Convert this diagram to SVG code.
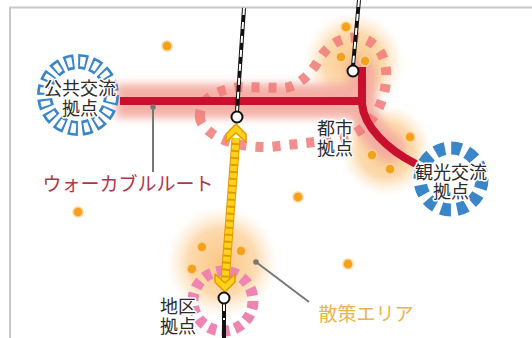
<svg xmlns="http://www.w3.org/2000/svg" width="532" height="338" viewBox="0 0 532 338">
<defs>
  <radialGradient id="og">
    <stop offset="0" stop-color="#fbc585" stop-opacity="1"/>
    <stop offset="0.6" stop-color="#fcd4a0" stop-opacity="0.85"/>
    <stop offset="1" stop-color="#fde8cc" stop-opacity="0"/>
  </radialGradient>
  <filter id="blur" x="-20%" y="-60%" width="140%" height="220%">
    <feGaussianBlur stdDeviation="4"/>
  </filter>
  <style>
    .lbl{font-family:"Noto Sans CJK JP","Noto Sans",sans-serif;fill:#2b2b2b;stroke:#fff;stroke-width:3;paint-order:stroke;stroke-linejoin:round;text-anchor:middle}
    .dot{fill:#f5a11c;stroke:#fbd49a;stroke-width:1.5}
    .node{fill:#fff;stroke:#111;stroke-width:2}
    .railb{stroke:#111;stroke-width:4;fill:none}
    .railw{stroke:#fff;stroke-width:2;fill:none;stroke-dasharray:7 7}
    .lead{stroke:#777;stroke-width:2;fill:none}
  </style>
</defs>
<rect width="532" height="338" fill="#fff"/>
<path d="M10,338 V7.5 H532" fill="none" stroke="#c8c8c8" stroke-width="2"/>

<g id="glows">
  <circle cx="354" cy="62" r="50" fill="url(#og)"/>
  <circle cx="386" cy="150" r="46" fill="url(#og)"/>
  <circle cx="222" cy="262" r="56" fill="url(#og)"/>
  <g filter="url(#blur)" opacity="0.95">
    <path d="M116,101 H362" stroke="#f4aca2" stroke-width="34" fill="none"/>
    <path d="M362,72 V104 C 364,125 376,138 390,148" stroke="#f4aca2" stroke-width="28" fill="none" stroke-linecap="round"/>
  </g>
</g>

<g id="dots">
  <circle class="dot" cx="167" cy="46" r="5"/>
  <circle class="dot" cx="346" cy="27" r="5"/>
  <circle class="dot" cx="341" cy="57" r="5"/>
  <circle class="dot" cx="365" cy="61" r="5"/>
  <circle class="dot" cx="410" cy="137" r="5"/>
  <circle class="dot" cx="372" cy="155" r="5"/>
  <circle class="dot" cx="390" cy="169" r="5"/>
  <circle class="dot" cx="78" cy="212" r="5"/>
  <circle class="dot" cx="298" cy="197" r="5"/>
  <circle class="dot" cx="348" cy="264" r="5"/>
  <circle class="dot" cx="202" cy="247" r="5"/>
  <circle class="dot" cx="241" cy="251" r="5"/>
  <circle class="dot" cx="192" cy="269" r="5"/>
</g>

<g id="toshi-area">
  <path d="M200,118 C198,100 215,90 240,87 L285,88 C300,86 312,72 320,58 C330,42 345,36 360,38 C378,42 388,58 386,80 C385,100 375,120 360,130 C350,137 335,141 315,142 L270,147 C245,148 222,142 210,132 C203,126 200,122 200,118 Z" fill="none" stroke="#f07a78" stroke-width="10" stroke-dasharray="8 9" opacity="0.85"/>
</g>

<g id="chiku-ring">
  <circle cx="223" cy="301" r="30" fill="none" stroke="#ee84b2" stroke-width="11" stroke-dasharray="8 5.46"/>
</g>

<g id="connectors">
  <g id="walkable-route">
    <path d="M120,101 H362" stroke="#c8102e" stroke-width="8" fill="none"/>
    <path d="M362,67 V104 C 364,126 386,149 416,164" stroke="#c8102e" stroke-width="8" fill="none"/>
  </g>
  <g id="rail">
    <path class="railb" d="M244,8 L237,111"/>
    <path class="railw" d="M244,8 L237,111"/>
    <path class="railb" d="M359,0 L353,66"/>
    <path class="railw" d="M359,0 L353,66"/>
    <path class="railb" d="M224,304 V338"/>
    <path class="railw" d="M224,304 V320"/>
  </g>
  <g id="stroll-arrow">
    <path d="M236,138 L225,282" stroke="#e39a00" stroke-width="9" fill="none"/>
    <path d="M236,138 L225,282" stroke="#ffd21a" stroke-width="7" stroke-dasharray="5 2" fill="none"/>
    <polygon points="236,124 246,134 246,142 236,133 226,142 226,134" fill="#ffd21a" stroke="#e39a00" stroke-width="1.5" stroke-linejoin="round"/>
    <polygon points="225,292 215,282 215,274 225,283 235,274 235,282" fill="#ffd21a" stroke="#e39a00" stroke-width="1.5" stroke-linejoin="round"/>
  </g>
  <g id="leaders">
    <circle cx="153" cy="107" r="2.8" fill="#777"/>
    <path class="lead" d="M153,107 V172"/>
    <circle cx="256" cy="262" r="2.8" fill="#777"/>
    <path class="lead" d="M256,262 L309,302"/>
  </g>
</g>

<g id="kokyo-node">
  <circle cx="78" cy="95" r="33.5" fill="none" stroke="#3a86c8" stroke-width="15" stroke-dasharray="9 4.15"/>
  <circle cx="78" cy="95" r="33.5" fill="none" stroke="#fff" stroke-width="9.5" stroke-dasharray="5 8.15" stroke-dashoffset="-2"/>
  <text class="lbl" font-size="18"><tspan x="80" y="95">公共交流</tspan><tspan x="80" y="115">拠点</tspan></text>
</g>

<g id="kanko-node">
  <circle cx="451" cy="179" r="31" fill="none" stroke="#3a86c8" stroke-width="13" stroke-dasharray="10 6.23"/>
  <text class="lbl" font-size="18"><tspan x="451" y="179">観光交流</tspan><tspan x="451" y="198">拠点</tspan></text>
</g>

<g id="station-a">
  <circle class="node" cx="237" cy="117" r="5.5"/>
</g>
<g id="toshi-node">
  <circle class="node" cx="353" cy="71" r="5.5"/>
  <text class="lbl" font-size="18"><tspan x="335" y="135">都市</tspan><tspan x="335" y="155">拠点</tspan></text>
</g>
<g id="chiku-node">
  <circle class="node" cx="224" cy="298" r="5.5"/>
  <text class="lbl" font-size="18"><tspan x="178" y="313">地区</tspan><tspan x="178" y="333">拠点</tspan></text>
</g>

<g id="labels">
  <text class="lbl" x="128" y="191" font-size="19" style="fill:#b3344a">ウォーカブルルート</text>
  <text class="lbl" x="366" y="321" font-size="19" style="fill:#e9b44c">散策エリア</text>
</g>
</svg>
